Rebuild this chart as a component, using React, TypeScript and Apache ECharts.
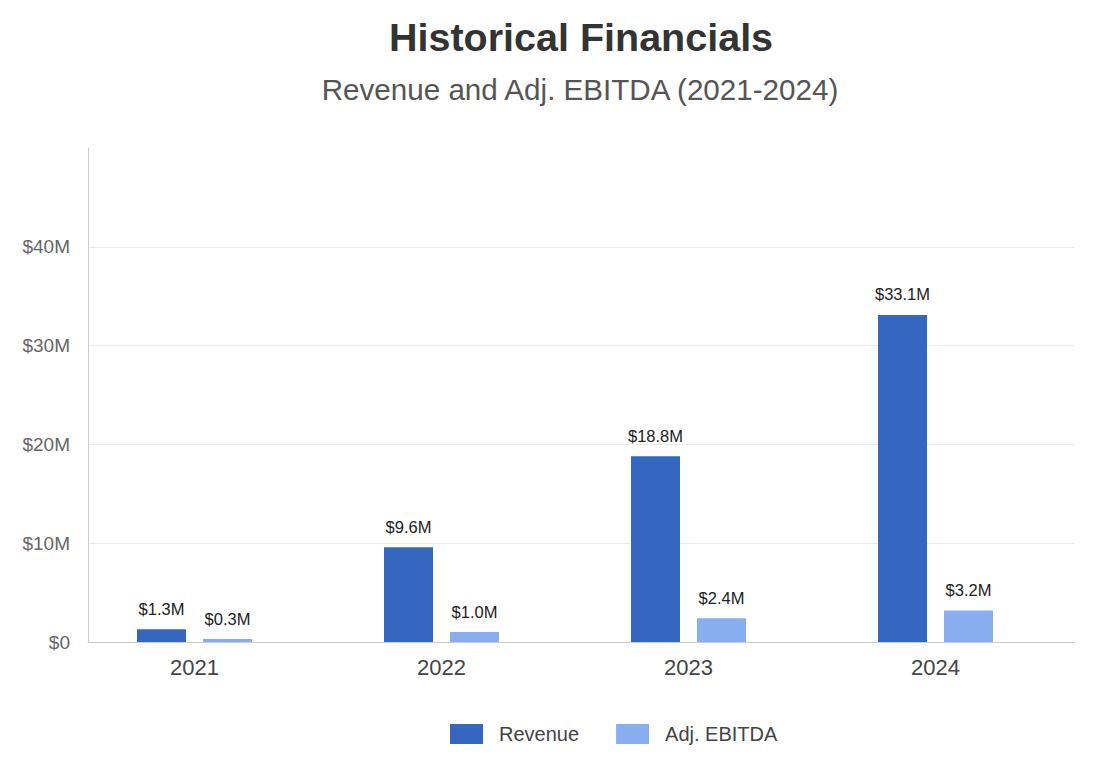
import React, { useEffect, useRef } from "react";
import * as echarts from "echarts";

// Fiscal years and reported figures, in millions of dollars
const years = ["2021", "2022", "2023", "2024"];
const revenue = [1.3, 9.6, 18.8, 33.1];
const adjEbitda = [0.3, 1.0, 2.4, 3.2];
const yTicks = [0, 10, 20, 30, 40, 50];

const FONT = "'Liberation Sans', Arial, Helvetica, sans-serif";
const REVENUE_COLOR = "#3567c0";
const EBITDA_COLOR = "#89aef0";

const money = (v: number) => `$${v.toFixed(1)}M`;
const tickLabel = (v: number) => (v === 0 ? "$0" : `$${v}M`);

export default function App() {
  const ref = useRef<HTMLDivElement>(null);

  useEffect(() => {
    document.body.style.margin = "0";
    if (!ref.current) return;
    const chart = echarts.init(ref.current, undefined, { renderer: "svg" });

    const yMin = yTicks[0];
    const yMax = yTicks[yTicks.length - 1];
    const step = yTicks[1] - yTicks[0];

    const barLabel = {
      show: true,
      position: "top" as const,
      distance: 12,
      fontFamily: FONT,
      fontSize: 16.5,
      color: "#222",
      formatter: (p: any) => money(p.value),
    };

    chart.setOption({
      animation: false,
      backgroundColor: "#ffffff",
      textStyle: { fontFamily: FONT },
      graphic: [
        {
          type: "text",
          x: 581,
          y: 37,
          style: {
            text: "Historical Financials",
            fontFamily: FONT,
            fontSize: 39.5,
            fontWeight: "bold",
            fill: "#333",
            align: "center",
            verticalAlign: "middle",
          },
        },
        {
          type: "text",
          x: 580,
          y: 89,
          style: {
            text: "Revenue and Adj. EBITDA (2021-2024)",
            fontFamily: FONT,
            fontSize: 29.6,
            fill: "#555",
            align: "center",
            verticalAlign: "middle",
          },
        },
      ],
      legend: {
        left: 445,
        top: 719,
        itemWidth: 33,
        itemHeight: 20,
        itemGap: 37,
        icon: "rect",
        textStyle: {
          fontFamily: FONT,
          fontSize: 20,
          color: "#444",
          padding: [0, 0, 0, 11],
        },
        data: ["Revenue", "Adj. EBITDA"],
      },
      grid: [
        { left: 88, top: 148, width: 987, height: 494 },
        { left: 71, top: 148, width: 988, height: 494 },
      ],
      xAxis: [
        {
          gridIndex: 0,
          type: "category",
          data: years,
          axisLine: { show: true, lineStyle: { color: "#cccccc", width: 1 } },
          axisTick: { show: false },
          axisLabel: { show: false },
          splitLine: { show: false },
        },
        {
          gridIndex: 1,
          type: "category",
          data: years,
          axisLine: { show: false },
          axisTick: { show: false },
          axisLabel: {
            fontFamily: FONT,
            fontSize: 22,
            color: "#444",
            margin: 14,
          },
          splitLine: { show: false },
        },
      ],
      yAxis: [
        {
          gridIndex: 0,
          type: "value",
          min: yMin,
          max: yMax,
          interval: step,
          axisLine: { show: true, lineStyle: { color: "#cccccc", width: 1 } },
          axisTick: { show: false },
          axisLabel: {
            showMaxLabel: false,
            fontFamily: FONT,
            fontSize: 19,
            color: "#666",
            margin: 18,
            formatter: tickLabel,
          },
          splitLine: {
            show: true,
            showMinLine: false,
            showMaxLine: false,
            lineStyle: { color: "#ebebeb", width: 1 },
          },
        },
        {
          gridIndex: 1,
          type: "value",
          min: yMin,
          max: yMax,
          interval: step,
          show: false,
          splitLine: { show: false },
        },
      ],
      series: [
        {
          name: "Revenue",
          type: "bar",
          xAxisIndex: 1,
          yAxisIndex: 1,
          data: revenue,
          barWidth: 49,
          barGap: "34.7%",
          itemStyle: { color: REVENUE_COLOR },
          label: barLabel,
        },
        {
          name: "Adj. EBITDA",
          type: "bar",
          xAxisIndex: 1,
          yAxisIndex: 1,
          data: adjEbitda,
          barWidth: 49,
          barGap: "34.7%",
          itemStyle: { color: EBITDA_COLOR },
          label: barLabel,
        },
      ],
    });

    return () => chart.dispose();
  }, []);

  return <div ref={ref} style={{ width: 1109, height: 769 }} />;
}
